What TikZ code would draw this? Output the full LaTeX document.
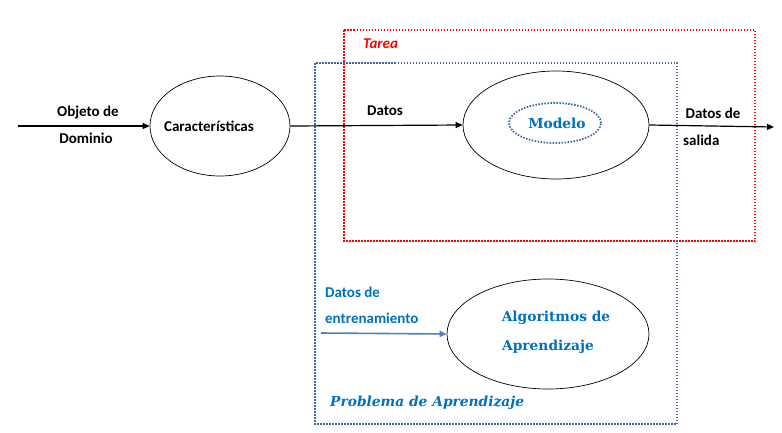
\documentclass[tikz,border=0pt]{standalone}
\usepackage{fontspec}
\setmainfont{Carlito}
\newfontfamily\serifb{DejaVu Serif}
\usetikzlibrary{arrows.meta,shapes.geometric}
\definecolor{tblue}{RGB}{0,112,192}
\definecolor{dblue}{RGB}{68,100,160}
\definecolor{ablue}{RGB}{79,129,189}
\tikzset{
  lbl/.style={font=\fontsize{15}{18}\selectfont\bfseries, inner sep=0pt},
  blbl/.style={lbl, text=tblue},
  sbl/.style={font=\serifb\fontsize{13.8}{16}\selectfont\bfseries, text=tblue, inner sep=0pt},
  ell/.style={draw, ellipse, line width=0.7pt},
  arr/.style={-{Triangle[length=7pt,width=6pt]}, line width=1.2pt},
}
\begin{document}
\begin{tikzpicture}[x=1pt,y=-1pt]
\useasboundingbox (0,0) rectangle (782,432);
% boxes
\draw[red, line width=1.8pt, dash pattern=on 1.5pt off 1.5pt] (344,30) rectangle (755,241);
\draw[dblue, line width=1.8pt, dash pattern=on 1.5pt off 1.5pt] (315,63) rectangle (677,424);
% ellipses
\node[ell, minimum width=140pt, minimum height=100pt] (car) at (220,126) {};
\node[lbl] at (209,126) {Características};
\node[ell, minimum width=186pt, minimum height=108pt] (mod) at (556,125) {};
\node[draw=dblue, ellipse, line width=1.8pt, dash pattern=on 1.5pt off 1.5pt, minimum width=92pt, minimum height=40pt] (modin) at (555,123) {};
\node[sbl] at (557,123) {Modelo};
\node[ell, minimum width=202pt, minimum height=110pt] (alg) at (548,334) {};
\node[sbl] at (556,318) {Algoritmos de};
\node[sbl] at (548,347) {Aprendizaje};
% connectors
\coordinate (in) at (18,126);
\coordinate (out) at (774,127);
\coordinate (tr) at (321,333);
\draw[arr] (in) -- (car.west);
\draw[arr] (car.east) -- (mod.west);
\draw[arr] (mod.east) -- (out);
\draw[-{Triangle[length=7pt,width=6pt]}, ablue, line width=1.6pt] (tr) -- (alg.west);
% labels
\node[lbl] at (88,112) {Objeto de};
\node[lbl] at (86,138) {Dominio};
\node[lbl] at (385,111) {Datos};
\node[lbl] at (713,113) {Datos de};
\node[lbl, anchor=west] at (683,140) {salida};
\node[blbl, anchor=west] at (325,292) {Datos de};
\node[blbl, anchor=west] at (325,318) {entrenamiento};
\node[lbl, text=red, font=\fontsize{15}{18}\selectfont\bfseries\itshape, anchor=west] at (363,44) {Tarea};
\node[sbl, font=\serifb\fontsize{13.8}{16}\selectfont\bfseries\itshape, anchor=west] at (330,403) {Problema de Aprendizaje};
\end{tikzpicture}
\end{document}
